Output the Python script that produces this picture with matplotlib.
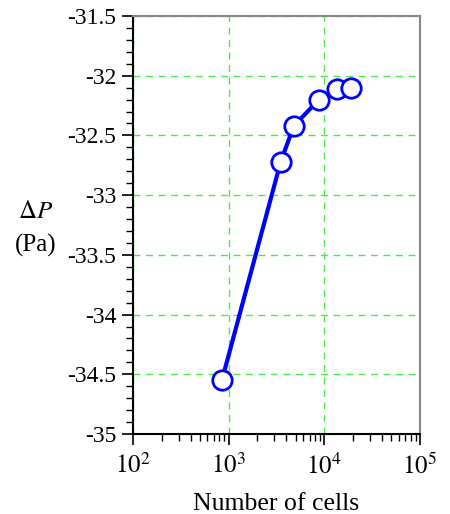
import matplotlib
matplotlib.use("Agg")
import matplotlib.pyplot as plt
from matplotlib.ticker import MultipleLocator, FixedLocator, NullFormatter
import numpy as np

# grid refinement study
n_cells = [850, 3500, 4800, 8800, 13500, 19000]
delta_p = [-34.55, -32.72, -32.42, -32.20, -32.11, -32.10]
x_ticks = [1e2, 1e3, 1e4, 1e5]
x_labels = [r'$10^{2}$', r'$10^{3}$', r'$10^{4}$', r'$10^{5}$']
y_ticks = [-35, -34.5, -34, -33.5, -33, -32.5, -32, -31.5]
y_labels = ['-35', '-34.5', '-34', '-33.5', '-33', '-32.5', '-32', '-31.5']

plt.rcParams['font.family'] = ['Liberation Serif', 'DejaVu Serif']
plt.rcParams['mathtext.fontset'] = 'stix'

fig = plt.figure(figsize=(4.5, 5.14), dpi=100)
ax = fig.add_axes([133 / 450, 80 / 514, 287 / 450, 418 / 514])

ax.plot(n_cells, delta_p, color='#0000ff', lw=3, marker='o', ms=14,
        mfc='white', mec='#0000ff', mew=2, zorder=3)

ax.set_xscale('log')
ax.set_xlim(1e2, 1e5)
ax.set_ylim(-35, -31.5)
ax.set_xticks(x_ticks)
ax.set_xticklabels(x_labels)
minor_x = [m * d for d in [1e2, 1e3, 1e4] for m in range(2, 10)]
ax.xaxis.set_minor_locator(FixedLocator(minor_x))
ax.xaxis.set_minor_formatter(NullFormatter())
ax.set_yticks(y_ticks)
ax.set_yticklabels(y_labels)
ax.yaxis.set_minor_locator(MultipleLocator(0.1))

ax.grid(True, which='major', color='#4de84d', ls=(0, (5, 4)), lw=1)
ax.tick_params(which='major', direction='out', length=8, width=1.2,
               color='black', top=False, right=False)
ax.tick_params(axis='y', which='major', labelsize=17, pad=4)
ax.tick_params(axis='x', which='major', labelsize=18, pad=6)
ax.tick_params(which='minor', direction='out', length=5, width=1, color='black',
               top=False, right=False)

for side in ['top', 'right']:
    ax.spines[side].set_color('#888888')
    ax.spines[side].set_linewidth(1.5)
for side in ['left', 'bottom']:
    ax.spines[side].set_color('black')
    ax.spines[side].set_linewidth(1.5)

ax.set_xlabel('Number of cells', fontsize=18.5, labelpad=10)
fig.text(36 / 450, 1 - 212 / 514, r'$\Delta P$', fontsize=18, ha='center', va='center')
fig.text(36 / 450, 1 - 245 / 514, '(Pa)', fontsize=18, ha='center', va='center')

fig.savefig('out.png', dpi=100)
